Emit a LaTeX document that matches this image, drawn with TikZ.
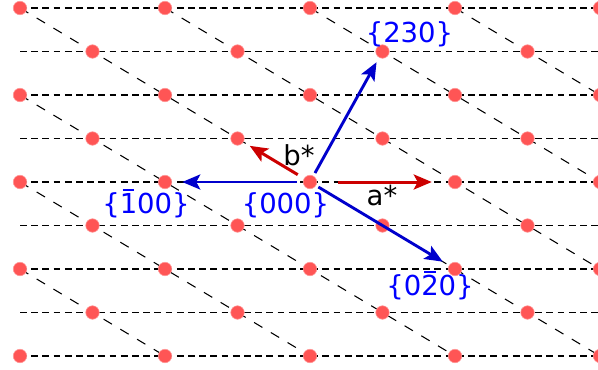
\documentclass[tikz,border=0pt]{standalone}
\usepackage{fontspec}
\setmainfont{DejaVu Sans}
\usetikzlibrary{arrows.meta}
\definecolor{dotred}{RGB}{255,85,85}
\definecolor{dotedge}{RGB}{255,150,150}
\definecolor{arrblue}{RGB}{0,0,204}
\definecolor{lblblue}{RGB}{0,0,255}
\definecolor{arrred}{RGB}{204,0,0}
\newcommand{\obar}[1]{\leavevmode\setbox0\hbox{#1}\rlap{\hbox to\wd0{\hss\rule[0.8em]{0.42em}{0.085em}\hss}}\box0\relax}
\begin{document}
\begin{tikzpicture}[x=1pt,y=-1pt,
  latpt/.style={circle, fill=dotred, draw=dotedge, line width=0.6pt, minimum size=13.5pt, inner sep=0pt, outer sep=0pt},
  hline/.style={black, line width=1.1pt, dash pattern=on 6.7pt off 4.5pt},
  dline/.style={black, line width=1.1pt, dash pattern=on 9.7pt off 9.8pt},
  vecblue/.style={draw=arrblue, line width=2.9pt, -{Stealth[length=18pt,width=15pt,inset=4pt]}},
  vecred/.style={draw=arrred, line width=3pt, -{Stealth[length=18pt,width=15pt,inset=4pt]}},
  lblb/.style={text=lblblue, font=\fontsize{27.5}{32}\selectfont, anchor=base, inner sep=0pt},
  lblk/.style={text=black, font=\fontsize{27.5}{32}\selectfont, anchor=base, inner sep=0pt}]
\useasboundingbox (0,0) rectangle (598,370);
% horizontal dashed lines
\foreach \rr in {-4,...,4}
  \draw[hline] (20,{182+43.5*(\rr)}) -- (600,{182+43.5*(\rr)});
% diagonal dashed lines
\foreach \sx/\sy/\ex/\ey in {20/8/600/356, 165/8/600/269, 310/8/600/182, 455/8/600/95, 20/95/455/356, 20/182/310/356, 20/269/165/356}
  \draw[dline] (\sx,\sy) -- (\ex,\ey);
% lattice points
\foreach \rr in {-4,-2,0,2,4}
  \foreach \mm in {-2,...,2}
    \node[latpt] (d\rr x\mm) at ({310+145*(\mm)},{182+43.5*(\rr)}) {};
\foreach \rr in {-3,-1,1,3}
  \foreach \mm in {-2,...,1}
    \node[latpt] (d\rr x\mm) at ({382.5+145*(\mm)},{182+43.5*(\rr)}) {};
% vectors
\draw[vecblue, shorten <=3.5pt, shorten >=5.5pt] (d0x0) -- (d-3x0);
\draw[vecblue, shorten <=6.5pt, shorten >=10.5pt] (d0x0) -- (d0x-1);
\draw[vecblue, shorten <=3pt, shorten >=7.5pt] (d0x0) -- (d2x1);
\draw[vecred, shorten <=21.5pt, shorten >=16.5pt] (d0x0) -- (d0x1);
\draw[vecred, shorten <=7.5pt, shorten >=7.5pt] (d0x0) -- (d-1x-1);
% labels
\node[lblb] (l230) at (409.5,42) {\{230\}};
\node[lblb] (l000) at (285.5,213.5) {\{000\}};
\node[lblb] (l100) at (146,213) {\{\obar{1}00\}};
\node[lblb] (l020) at (430,295) {\{0\obar{2}0\}};
\node[lblk] (la) at (382,205) {a*};
\node[lblk] (lb) at (299,165) {b*};
\end{tikzpicture}
\end{document}
